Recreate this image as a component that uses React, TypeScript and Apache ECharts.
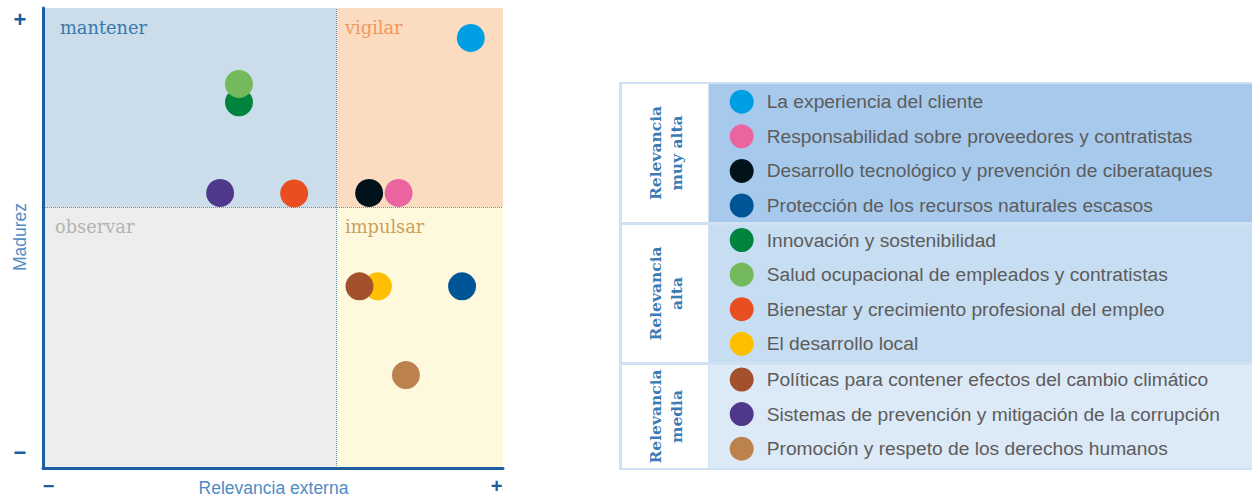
import React, { useEffect, useRef } from "react";
import * as echarts from "echarts";

const names = [
  "La experiencia del cliente",
  "Responsabilidad sobre proveedores y contratistas",
  "Desarrollo tecnológico y prevención de ciberataques",
  "Protección de los recursos naturales escasos",
  "Innovación y sostenibilidad",
  "Salud ocupacional de empleados y contratistas",
  "Bienestar y crecimiento profesional del empleo",
  "El desarrollo local",
  "Políticas para contener efectos del cambio climático",
  "Sistemas de prevención y mitigación de la corrupción",
  "Promoción y respeto de los derechos humanos",
];
const colors = [
  "#009fe3", "#ea64a0", "#02121a", "#005596",
  "#00833d", "#74b95c", "#e84e1f", "#fdbf00",
  "#a3512c", "#4f378b", "#bb824e",
];
const xValues = [93.0, 77.3, 70.9, 91.1, 42.6, 42.6, 54.6, 72.8, 68.8, 38.5, 78.9];
const yValues = [93.5, 59.8, 59.8, 39.5, 79.5, 83.5, 59.7, 39.5, 39.5, 59.8, 20.2];
const groupOf = [0, 0, 0, 0, 1, 1, 1, 1, 2, 2, 2];
const groupLabels = ["Relevancia\nmuy alta", "Relevancia\nalta", "Relevancia\nmedia"];
const quadrantLabels = ["mantener", "vigilar", "observar", "impulsar"];
const xMid = 63.7;
const yMid = 56.7;

export default function App() {
  const ref = useRef<HTMLDivElement>(null);
  useEffect(() => {
    const chart = echarts.init(ref.current!, null, { renderer: "svg" });
    const serif = "DejaVu Serif";
    const sans = "Liberation Sans";
    const axisBlue = "#1b5fa0";
    const labelBlue = "#4f8cc4";

    const quadLabel = (text: string, color: string, dx: number) => ({
      show: true,
      position: [dx, 19],
      verticalAlign: "middle",
      align: "left",
      color,
      fontFamily: serif,
      fontSize: 17.8,
      formatter: text,
    });

    const series: any[] = names.map((n, i) => ({
      type: "scatter",
      name: n,
      data: [[xValues[i], yValues[i]]],
      symbolSize: 28,
      itemStyle: { color: colors[i], opacity: 1 },
      silent: true,
      z: 5,
    }));
    series.unshift({
      type: "scatter",
      name: "__bg",
      data: [],
      silent: true,
      z: 1,
      markArea: {
        silent: true,
        data: [
          [
            { xAxis: 0, yAxis: yMid, itemStyle: { color: "#cbdcea" }, label: quadLabel(quadrantLabels[0], "#3a78ac", 17) },
            { xAxis: xMid, yAxis: 100 },
          ],
          [
            { xAxis: xMid, yAxis: yMid, itemStyle: { color: "#fbdcc1" }, label: quadLabel(quadrantLabels[1], "#f0965a", 9) },
            { xAxis: 100, yAxis: 100 },
          ],
          [
            { xAxis: 0, yAxis: 0, itemStyle: { color: "#ededed" }, label: quadLabel(quadrantLabels[2], "#b3b3b3", 12) },
            { xAxis: xMid, yAxis: yMid },
          ],
          [
            { xAxis: xMid, yAxis: 0, itemStyle: { color: "#fef8dd" }, label: quadLabel(quadrantLabels[3], "#c9a15e", 9) },
            { xAxis: 100, yAxis: yMid },
          ],
        ],
      },
      markLine: {
        silent: true,
        symbol: "none",
        label: { show: false },
        lineStyle: { color: "#5a8dc0", width: 1, type: "dotted" },
        data: [{ xAxis: xMid }, { yAxis: yMid }],
      },
    });

    const legendTops = [89.7, 228, 367.5];
    const legends = [0, 1, 2].map((g) => ({
      data: names.filter((_, i) => groupOf[i] === g).map((n) => ({ name: n, icon: "circle" })),
      orient: "vertical",
      left: 729.7,
      top: legendTops[g],
      padding: 0,
      itemWidth: 40,
      itemHeight: 24,
      itemGap: 10.6,
      selectedMode: false,
      textStyle: { color: "#5c5c5c", fontSize: 19.2, fontFamily: sans },
    }));

    const groupBoxes = [
      { y: 84, h: 138, fill: "#a6c9ec" },
      { y: 225, h: 137, fill: "#c7ddf2" },
      { y: 365, h: 103, fill: "#dce9f6" },
    ];
    const graphics: any[] = [
      { type: "rect", shape: { x: 619, y: 82, width: 633, height: 388 }, style: { fill: "#cfe1f3" }, z: 0 },
    ];
    groupBoxes.forEach((b, g) => {
      graphics.push({ type: "rect", shape: { x: 622, y: b.y, width: 86, height: b.h }, style: { fill: "#ffffff" }, z: 1 });
      graphics.push({ type: "rect", shape: { x: 709, y: b.y, width: 543, height: b.h }, style: { fill: b.fill }, z: 1 });
      graphics.push({
        type: "text",
        x: 666,
        y: b.y + b.h / 2,
        rotation: Math.PI / 2,
        style: {
          text: groupLabels[g],
          fill: "#3b7bb5",
          font: `bold 15.5px "${serif}"`,
          align: "center",
          verticalAlign: "middle",
          lineHeight: 21.7,
        },
        z: 2,
      });
    });
    const sign = (text: string, x: number, y: number, size: number) => ({
      type: "text",
      x,
      y,
      style: {
        text,
        fill: axisBlue,
        font: `bold ${size}px "${sans}"`,
        align: "center",
        verticalAlign: "middle",
      },
      z: 10,
    });
    graphics.push(sign("+", 20, 19, 22));
    graphics.push(sign("−", 20, 452, 22));
    graphics.push(sign("−", 48.5, 486, 20));
    graphics.push(sign("+", 496.5, 486, 20));
    graphics.push({
      type: "text",
      x: 273.5,
      y: 488,
      style: { text: "Relevancia externa", fill: labelBlue, font: `17.5px "${sans}"`, align: "center", verticalAlign: "middle" },
      z: 10,
    });
    graphics.push({
      type: "text",
      x: 20,
      y: 237,
      rotation: Math.PI / 2,
      style: { text: "Madurez", fill: labelBlue, font: `17.5px "${sans}"`, align: "center", verticalAlign: "middle" },
      z: 10,
    });

    chart.setOption({
      animation: false,
      backgroundColor: "#ffffff",
      grid: { left: 43, top: 8, width: 460, height: 460 },
      xAxis: {
        type: "value",
        min: 0,
        max: 100,
        z: 10,
        axisLine: { show: true, lineStyle: { color: axisBlue, width: 3 } },
        axisTick: { show: false },
        axisLabel: { show: false },
        splitLine: { show: false },
      },
      yAxis: {
        type: "value",
        min: 0,
        max: 100,
        z: 10,
        axisLine: { show: true, lineStyle: { color: axisBlue, width: 3 } },
        axisTick: { show: false },
        axisLabel: { show: false },
        splitLine: { show: false },
      },
      legend: legends,
      graphic: graphics,
      series,
    });
    return () => chart.dispose();
  }, []);
  return (
    <div
      ref={ref}
      style={{ position: "absolute", left: 0, top: 0, width: 1252, height: 498, background: "#fff" }}
    />
  );
}
